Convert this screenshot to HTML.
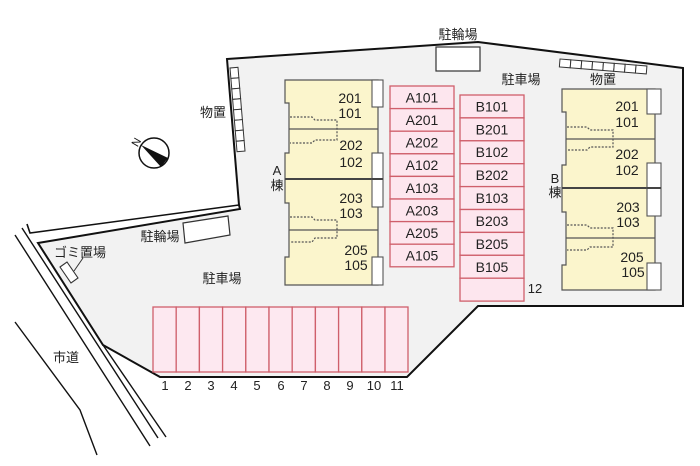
<!DOCTYPE html>
<html><head><meta charset="utf-8">
<style>
html,body{margin:0;padding:0;background:#fff;}
svg{display:block;}
.j{font-family:"Liberation Sans","Noto Sans CJK JP",sans-serif;font-size:13px;fill:#222;text-anchor:middle;}
.n{font-family:"Liberation Sans",sans-serif;font-size:14px;fill:#222;text-anchor:middle;}
.s{font-family:"Liberation Sans",sans-serif;font-size:13px;fill:#222;text-anchor:middle;}
</style></head>
<body>
<svg width="700" height="466" viewBox="0 0 700 466" xmlns="http://www.w3.org/2000/svg">
<rect width="700" height="466" fill="#fff"/>
<!-- lot -->
<polygon points="227,59 478,42 683,68 683,306 478,306 407,377 160,377 103,345 38,243 240,209 239,205" fill="#f2f2f2" stroke="#111" stroke-width="2" stroke-linejoin="miter"/>
<polyline points="239,205 30,233 27,224" fill="none" stroke="#111" stroke-width="1.6"/>
<!-- road -->
<line x1="15" y1="235" x2="150" y2="446" stroke="#111" stroke-width="1.4"/>
<line x1="22" y1="228" x2="158" y2="438" stroke="#111" stroke-width="1.4"/>
<line x1="103" y1="345" x2="166" y2="437" stroke="#111" stroke-width="1.4"/>
<polyline points="15,322 80,410 97,455" fill="none" stroke="#111" stroke-width="1.4"/>

<!-- compass -->
<circle cx="154" cy="153" r="15" fill="#fff" stroke="#111" stroke-width="1.5"/>
<polygon points="141,145 168,158 161,167" fill="#111"/>
<text x="136" y="146" font-family="Liberation Sans,sans-serif" font-size="11" fill="#111" text-anchor="middle" transform="rotate(-60 136 142)">N</text>

<!-- storage left -->
<g transform="translate(230,68) rotate(-4.8)" fill="#fff" stroke="#333" stroke-width="1">
<rect x="0" y="0" width="8" height="10.5"/><rect x="0" y="10.5" width="8" height="10.5"/>
<rect x="0" y="21" width="8" height="10.5"/><rect x="0" y="31.5" width="8" height="10.5"/>
<rect x="0" y="42" width="8" height="10.5"/><rect x="0" y="52.5" width="8" height="10.5"/>
<rect x="0" y="63" width="8" height="10.5"/><rect x="0" y="73.5" width="8" height="10.5"/>
</g>
<!-- storage right -->
<g transform="translate(560,59) rotate(4.6)" fill="#fff" stroke="#333" stroke-width="1">
<rect x="0" y="0" width="10.9" height="8"/><rect x="10.9" y="0" width="10.9" height="8"/>
<rect x="21.8" y="0" width="10.9" height="8"/><rect x="32.7" y="0" width="10.9" height="8"/>
<rect x="43.6" y="0" width="10.9" height="8"/><rect x="54.5" y="0" width="10.9" height="8"/>
<rect x="65.4" y="0" width="10.9" height="8"/><rect x="76.3" y="0" width="10.9" height="8"/>
</g>

<!-- bike parking -->
<rect x="436" y="47" width="44" height="24" fill="#fff" stroke="#333" stroke-width="1.2"/>
<polygon points="183,223 228,216 230,235 185,243" fill="#fff" stroke="#333" stroke-width="1.2"/>
<!-- garbage -->
<polygon points="60,267 67,262 78,278 71,283" fill="#fff" stroke="#333" stroke-width="1.1"/>
<line x1="74" y1="271" x2="83" y2="258" stroke="#333" stroke-width="1"/>

<!-- Building A -->
<path d="M285,80 H378 V285 H285 V257 H289 V203 H285 V153 H289 V103 H285 Z" fill="#fbf5cc" stroke="#555" stroke-width="1.2"/>
<line x1="289" y1="129" x2="378" y2="129" stroke="#555" stroke-width="1.2"/>
<line x1="285" y1="179" x2="383" y2="179" stroke="#444" stroke-width="2"/>
<line x1="289" y1="230" x2="378" y2="230" stroke="#555" stroke-width="1.2"/>
<polyline points="290,117 312,117 315,120 337,120 337,140 315,140 312,143 290,143" fill="none" stroke="#555" stroke-width="1.2" stroke-dasharray="2,1.5"/>
<polyline points="290,217 312,217 315,220 337,220 337,238 315,238 312,242 290,242" fill="none" stroke="#555" stroke-width="1.2" stroke-dasharray="2,1.5"/>
<rect x="372" y="80" width="11" height="27" fill="#fff" stroke="#555" stroke-width="1.1"/>
<rect x="372" y="153" width="11" height="54" fill="#fff" stroke="#555" stroke-width="1.1"/>
<rect x="372" y="257" width="11" height="28" fill="#fff" stroke="#555" stroke-width="1.1"/>
<line x1="372" y1="179" x2="383" y2="179" stroke="#444" stroke-width="2"/>
<text class="n" x="350" y="103">201</text>
<text class="n" x="350" y="118">101</text>
<text class="n" x="351" y="150">202</text>
<text class="n" x="351" y="167">102</text>
<text class="n" x="351" y="203">203</text>
<text class="n" x="351" y="218">103</text>
<text class="n" x="356" y="255">205</text>
<text class="n" x="356" y="270">105</text>

<!-- Building B -->
<path d="M562,89 H655 V290 H562 V265 H566 V212 H562 V165 H566 V112 H562 Z" fill="#fbf5cc" stroke="#555" stroke-width="1.2"/>
<line x1="566" y1="139" x2="655" y2="139" stroke="#555" stroke-width="1.2"/>
<line x1="562" y1="188" x2="661" y2="188" stroke="#444" stroke-width="2"/>
<line x1="566" y1="238" x2="655" y2="238" stroke="#555" stroke-width="1.2"/>
<polyline points="567,127 587,127 590,130 613,130 613,147 590,147 587,150 567,150" fill="none" stroke="#555" stroke-width="1.2" stroke-dasharray="2,1.5"/>
<polyline points="567,225 587,225 590,228 613,228 613,247 590,247 587,250 567,250" fill="none" stroke="#555" stroke-width="1.2" stroke-dasharray="2,1.5"/>
<rect x="647" y="89" width="14" height="25" fill="#fff" stroke="#555" stroke-width="1.1"/>
<rect x="647" y="163" width="14" height="53" fill="#fff" stroke="#555" stroke-width="1.1"/>
<rect x="647" y="263" width="14" height="27" fill="#fff" stroke="#555" stroke-width="1.1"/>
<line x1="647" y1="188" x2="661" y2="188" stroke="#444" stroke-width="2"/>
<text class="n" x="627" y="111">201</text>
<text class="n" x="627" y="127">101</text>
<text class="n" x="627" y="159">202</text>
<text class="n" x="627" y="175">102</text>
<text class="n" x="628" y="212">203</text>
<text class="n" x="628" y="227">103</text>
<text class="n" x="632" y="262">205</text>
<text class="n" x="633" y="277">105</text>

<!-- Parking A column -->
<g fill="#fde6ee" stroke="#cf5f6b" stroke-width="1.3">
<rect x="390" y="86" width="64" height="22.6"/><rect x="390" y="108.6" width="64" height="22.6"/>
<rect x="390" y="131.2" width="64" height="22.6"/><rect x="390" y="153.8" width="64" height="22.6"/>
<rect x="390" y="176.4" width="64" height="22.6"/><rect x="390" y="199" width="64" height="22.6"/>
<rect x="390" y="221.6" width="64" height="22.6"/><rect x="390" y="244.2" width="64" height="22.6"/>
</g>
<text class="n" x="422" y="102.5">A101</text>
<text class="n" x="422" y="125">A201</text>
<text class="n" x="422" y="147.5">A202</text>
<text class="n" x="422" y="170">A102</text>
<text class="n" x="422" y="193">A103</text>
<text class="n" x="422" y="215.5">A203</text>
<text class="n" x="422" y="238">A205</text>
<text class="n" x="422" y="260.5">A105</text>

<!-- Parking B column -->
<g fill="#fde6ee" stroke="#cf5f6b" stroke-width="1.3">
<rect x="460" y="95" width="64" height="22.9"/><rect x="460" y="117.9" width="64" height="22.9"/>
<rect x="460" y="140.8" width="64" height="22.9"/><rect x="460" y="163.7" width="64" height="22.9"/>
<rect x="460" y="186.6" width="64" height="22.9"/><rect x="460" y="209.5" width="64" height="22.9"/>
<rect x="460" y="232.4" width="64" height="22.9"/><rect x="460" y="255.3" width="64" height="22.9"/>
<rect x="460" y="278.2" width="64" height="22.9"/>
</g>
<text class="n" x="492" y="111.5">B101</text>
<text class="n" x="492" y="134.5">B201</text>
<text class="n" x="492" y="157">B102</text>
<text class="n" x="492" y="180">B202</text>
<text class="n" x="492" y="203">B103</text>
<text class="n" x="492" y="226">B203</text>
<text class="n" x="492" y="249">B205</text>
<text class="n" x="492" y="272">B105</text>
<text class="s" x="535" y="293">12</text>

<!-- Bottom parking -->
<g fill="#fde8f0" stroke="#cf5f6b" stroke-width="1.3">
<rect x="153" y="307" width="23.2" height="65"/><rect x="176.2" y="307" width="23.2" height="65"/>
<rect x="199.4" y="307" width="23.2" height="65"/><rect x="222.6" y="307" width="23.2" height="65"/>
<rect x="245.8" y="307" width="23.2" height="65"/><rect x="269" y="307" width="23.2" height="65"/>
<rect x="292.2" y="307" width="23.2" height="65"/><rect x="315.4" y="307" width="23.2" height="65"/>
<rect x="338.6" y="307" width="23.2" height="65"/><rect x="361.8" y="307" width="23.2" height="65"/>
<rect x="385" y="307" width="23" height="65"/>
</g>
<text class="s" x="165" y="390">1</text>
<text class="s" x="188" y="390">2</text>
<text class="s" x="211" y="390">3</text>
<text class="s" x="234" y="390">4</text>
<text class="s" x="257" y="390">5</text>
<text class="s" x="281" y="390">6</text>
<text class="s" x="304" y="390">7</text>
<text class="s" x="327" y="390">8</text>
<text class="s" x="350" y="390">9</text>
<text class="s" x="374" y="390">10</text>
<text class="s" x="397" y="390">11</text>

<!-- labels -->
<text class="j" x="458" y="39">駐輪場</text>
<text class="j" x="521" y="84">駐車場</text>
<text class="j" x="603" y="84">物置</text>
<text class="j" x="213" y="117">物置</text>
<text class="j" x="277" y="175">A</text>
<text class="j" x="277" y="190">棟</text>
<text class="j" x="555" y="183">B</text>
<text class="j" x="555" y="197">棟</text>
<text class="j" x="160" y="241">駐輪場</text>
<text class="j" x="80" y="257">ゴミ置場</text>
<text class="j" x="222" y="283">駐車場</text>
<text class="j" x="66" y="362">市道</text>
</svg>
</body></html>
